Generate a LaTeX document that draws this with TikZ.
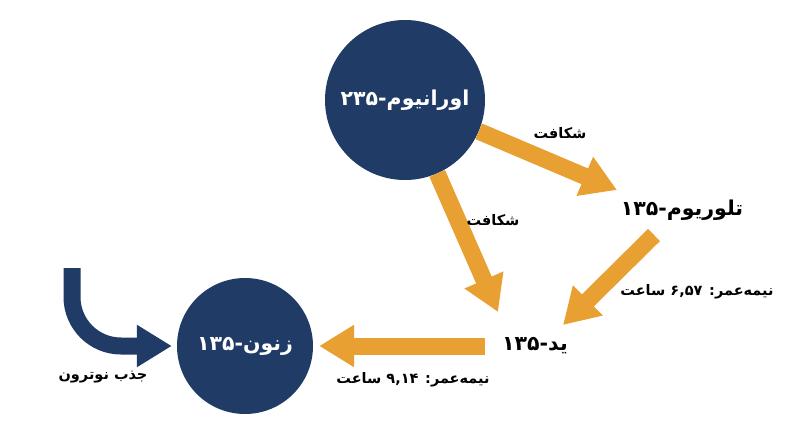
\documentclass[tikz,border=0pt]{standalone}
\usepackage{fontspec}
\newfontfamily\fa[Script=Arabic]{DejaVu Sans}
\TeXXeTstate=1
\usetikzlibrary{arrows.meta}
\definecolor{navy}{HTML}{1F3B66}
\definecolor{amber}{HTML}{E8A032}
\newcommand\rtltext[1]{\beginR #1\endR}
\begin{document}
\begin{tikzpicture}[x=1pt,y=-1pt,
  atom/.style={circle,fill=navy,text=white,minimum size=160pt,inner sep=0pt,font=\fa\bfseries\fontsize{20.5}{24}\selectfont},
  iso/.style={font=\fa\bfseries\fontsize{20.5}{24}\selectfont,inner sep=2pt},
  lbl/.style={font=\fa\bfseries\fontsize{14.5}{17}\selectfont,inner sep=1pt},
  flow/.style={draw=amber,line width=17pt,-{Triangle[width=40pt,length=35pt]}},
  capt/.style={draw=navy,line width=17pt,-{Triangle[width=40pt,length=35pt]},rounded corners=49pt}]
\useasboundingbox (0,0) rectangle (800,447);
\node[atom] (U) at (405,100) {\rtltext{اورانیوم-۲۳۵}};
\node[atom,minimum size=136pt] (Xe) at (245,346) {\rtltext{زنون-۱۳۵}};
\node[iso] (Te) at (682,210) {\rtltext{تلوریوم-۱۳۵}};
\node[iso] (I) at (535,346) {\rtltext{ید-۱۳۵}};
\coordinate (t1) at (617,190);
\coordinate (t2) at (498,312);
\coordinate (s3) at (654,235);
\coordinate (t3) at (563,325);
\coordinate (s4) at (485,346);
\coordinate (s5) at (72,268);
\draw[flow] (U) -- (t1);
\draw[flow] (U) -- (t2);
\draw[flow] (s3) -- (t3);
\draw[flow,shorten >=6pt] (s4) -- (Xe.east);
\draw[capt,shorten >=5pt] (s5) |- (Xe.west);
\node[lbl] (f1) at (560,133) {\rtltext{شکافت}};
\node[lbl] (f2) at (493,220) {\rtltext{شکافت}};
\node[lbl] (h1) at (697,292) {\rtltext{نیمه‌عمر: ۶,۵۷ ساعت}};
\node[lbl] (h2) at (413,380) {\rtltext{نیمه‌عمر: ۹,۱۴ ساعت}};
\node[lbl] (n1) at (103,377) {\rtltext{جذب نوترون}};
\end{tikzpicture}
\end{document}
